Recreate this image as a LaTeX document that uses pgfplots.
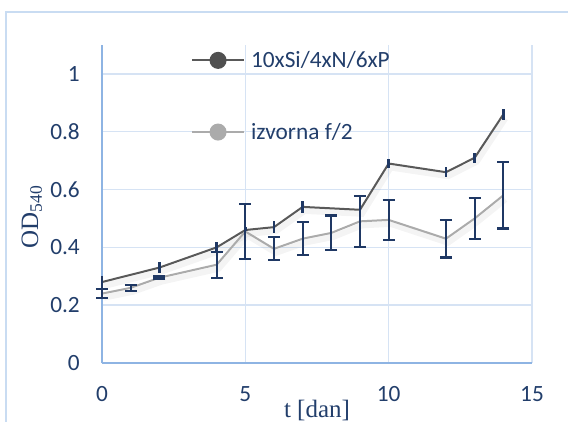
\documentclass[border=0pt]{standalone}
\usepackage{pgfplots}
\pgfplotsset{compat=1.18}
\usepackage{pgfplotstable}
\usepackage{fontspec}
\setmainfont{Carlito}
\newfontfamily\serif{Liberation Serif}

\definecolor{darkline}{HTML}{595959}
\definecolor{lightline}{HTML}{ABABAB}
\definecolor{errnavy}{HTML}{1F3864}
\definecolor{ticktext}{HTML}{223E6B}
\definecolor{gridblue}{HTML}{D6E3F4}
\definecolor{axisblue}{HTML}{8EB4E3}
\definecolor{frameblue}{HTML}{C9DCF2}

% 10xSi/4xN/6xP
\pgfplotstableread{
x  y     e
0  0.28  0.02
2  0.33  0.02
4  0.40  0.02
5  0.46  0.01
6  0.47  0.02
7  0.54  0.02
9  0.53  0.02
10 0.69  0.017
12 0.66  0.017
13 0.71  0.017
14 0.86  0.019
}\dark

% izvorna f/2
\pgfplotstableread{
x  y     e
0  0.24  0.015
1  0.26  0.01
2  0.295 0.004
4  0.34  0.045
5  0.455 0.095
6  0.395 0.04
7  0.43  0.057
8  0.45  0.06
9  0.49  0.088
10 0.495 0.07
12 0.43  0.065
13 0.50  0.07
14 0.58  0.115
}\light

\begin{document}
\begin{tikzpicture}
\useasboundingbox (-102pt,-58pt) rectangle (466pt,363pt);
\begin{axis}[
    scale only axis,
    width=430pt, height=318pt,
    xmin=0, xmax=15, ymin=0, ymax=1.1,
    xtick={0,5,10,15},
    ytick={0,0.2,0.4,0.6,0.8,1},
    axis x line*=bottom, axis y line*=left,
    axis line style={axisblue, line width=1.8pt, -},
    grid=major,
    grid style={gridblue, line width=1.4pt},
    major tick length=0pt,
    /pgf/number format/assume math mode=true,
    tick label style={font=\fontsize{23.3}{27}\selectfont, text=ticktext, inner sep=0pt},
    yticklabel style={anchor=east, xshift=-22pt},
    xticklabel style={anchor=center, yshift=-31pt},
    xlabel={t [dan]},
    ylabel={OD\textsubscript{540}},
    xlabel style={font=\serif\fontsize{25}{28}\selectfont, text=ticktext, at={(rel axis cs:0.5,-0.17)}, anchor=base},
    ylabel style={font=\serif\fontsize{25}{28}\selectfont, text=ticktext, at={(rel axis cs:-0.163,0.459)}, anchor=center},
    legend style={draw=none, fill=none, at={(axis cs:3.1,1.085)}, anchor=north west,
        font=\fontsize{23.3}{27}\selectfont, text=ticktext, row sep=50pt, column sep=4pt, inner sep=0pt},
    legend cell align=left,
    clip=false,
]
% soft shadows
\addplot[forget plot, line width=6pt, black, opacity=0.045, yshift=-4pt, xshift=2pt] table[x=x,y=y]{\dark};
\addplot[forget plot, line width=6pt, black, opacity=0.045, yshift=-4pt, xshift=2pt] table[x=x,y=y]{\light};

\addplot[darkline, line width=2pt,
    legend image code/.code={\draw[line width=2pt,darkline] (0pt,0pt) -- (52pt,0pt); \fill[darkline!90!black] (26pt,0pt) circle (7.5pt);},
    error bars/.cd, y dir=both, y explicit,
    error bar style={line width=2.4pt, errnavy},
    error mark=none]
    table[x=x, y=y, y error=e]{\dark};
\addlegendentry{10xSi/4xN/6xP}

\addplot[lightline, line width=2pt,
    legend image code/.code={\draw[line width=2pt,lightline] (0pt,0pt) -- (52pt,0pt); \fill[lightline] (26pt,0pt) circle (7.5pt);},
    error bars/.cd, y dir=both, y explicit,
    error bar style={line width=2.2pt, errnavy},
    error mark options={rotate=90, mark size=6pt, line width=2.2pt, errnavy}]
    table[x=x, y=y, y error=e]{\light};
\addlegendentry{izvorna f/2}
\end{axis}
\draw[frameblue, line width=1.5pt] (-96pt,-80pt) -- (-96pt,351pt) -- (480pt,351pt);
\end{tikzpicture}
\end{document}
